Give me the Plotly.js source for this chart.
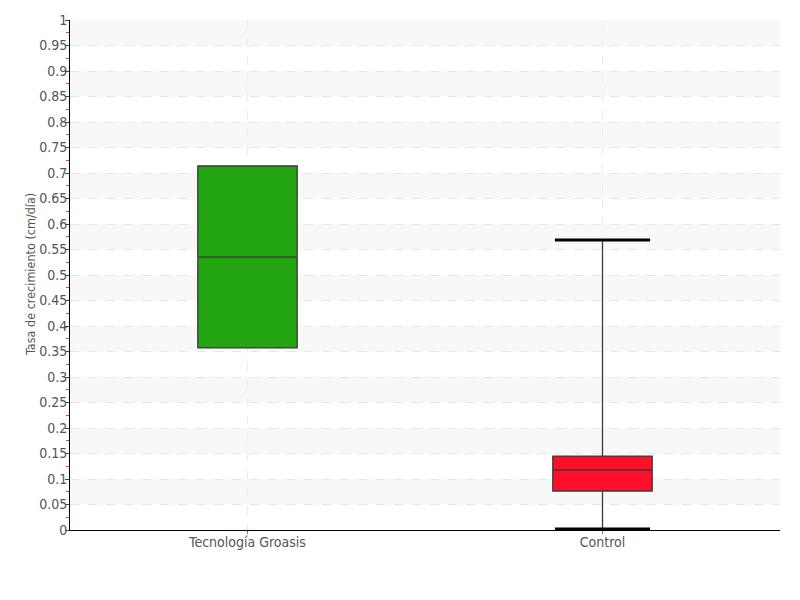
<!DOCTYPE html>
<html>
<head>
<meta charset="utf-8">
<script src="https://cdn.plot.ly/plotly-3.0.1.min.js"></script>
<style>html,body{margin:0;padding:0;background:#fff}#chart{width:800px;height:600px}
#chart text{font-stretch:condensed !important;}</style>
</head>
<body>
<div id="chart"></div>
<script>
var categories = ["Tecnología Groasis", "Control"];
var q1 = [0.357, 0.0765];
var medians = [0.535, 0.1176];
var q3 = [0.7137, 0.145];
var lowerFence = [0.357, 0.002];
var upperFence = [0.7137, 0.5686];
var fillColors = ["#22a510", "#ff1028"];
var yTicks = [0, 0.05, 0.1, 0.15, 0.2, 0.25, 0.3, 0.35, 0.4, 0.45, 0.5, 0.55, 0.6, 0.65, 0.7, 0.75, 0.8, 0.85, 0.9, 0.95, 1];
var yTitle = "Tasa de crecimiento (cm/día)";

var FONT = "'DejaVu Sans Condensed', 'DejaVu Sans', sans-serif";
var traces = [];
categories.forEach(function (c, i) {
  traces.push({
    type: "box",
    x: [i],
    q1: [q1[i]], median: [medians[i]], q3: [q3[i]],
    lowerfence: [lowerFence[i]], upperfence: [upperFence[i]],
    width: 0.28,
    fillcolor: fillColors[i],
    line: {color: "#3a3a3a", width: 1.3},
    whiskerwidth: 0,
    hoverinfo: "skip",
    showlegend: false
  });
  var capHalf = 0.134;
  if (upperFence[i] > q3[i]) {
    traces.push({type: "scatter", mode: "lines", x: [i - capHalf, i + capHalf], y: [upperFence[i], upperFence[i]],
      line: {color: "#000", width: 3}, hoverinfo: "skip", showlegend: false});
  }
  if (lowerFence[i] < q1[i]) {
    traces.push({type: "scatter", mode: "lines", x: [i - capHalf, i + capHalf], y: [lowerFence[i], lowerFence[i]],
      line: {color: "#000", width: 3}, hoverinfo: "skip", showlegend: false, cliponaxis: false});
  }
});

var shapes = [];
for (var k = 1; k < yTicks.length; k += 2) {
  shapes.push({type: "rect", xref: "paper", yref: "y", x0: 0, x1: 1, y0: yTicks[k], y1: yTicks[k + 1],
    fillcolor: "#f8f8f8", line: {width: 0}, layer: "below"});
}

var layout = {
  width: 800, height: 600,
  margin: {l: 70, r: 20, t: 20, b: 70},
  paper_bgcolor: "#fff", plot_bgcolor: "#fff",
  font: {family: FONT, size: 14, color: "#555"},
  shapes: shapes,
  annotations: [{
    text: yTitle, xref: "paper", yref: "paper", x: 0, y: 0.5,
    xanchor: "center", yanchor: "middle", xshift: -40, textangle: -90, showarrow: false,
    font: {family: FONT, size: 12.5, color: "#555"}
  }],
  xaxis: {
    range: [-0.5, 1.5],
    tickmode: "array", tickvals: categories.map(function (c, i) { return i; }), ticktext: categories,
    showgrid: true, gridcolor: "#ebebeb", griddash: "dash", gridwidth: 1,
    zeroline: false, showline: true, linecolor: "#000", linewidth: 1,
    ticks: "outside", ticklen: 3, tickcolor: "#777", ticklabelstandoff: -4,
    tickfont: {family: FONT, size: 14, color: "#555"}
  },
  yaxis: {
    range: [0, 1],
    tickmode: "array", tickvals: yTicks, ticktext: yTicks.map(String),
    showgrid: true, gridcolor: "#e6e6e6", griddash: "dash", gridwidth: 1,
    zeroline: false, showline: true, linecolor: "#000", linewidth: 1,
    ticks: "outside", ticklen: 4, tickcolor: "#444", ticklabelstandoff: -5,
    minor: {dtick: 0.025, tick0: 0.025, ticks: "outside", ticklen: 3, tickcolor: "#ff3030", showgrid: false},
    tickfont: {family: FONT, size: 14, color: "#555"}
  }
};

Plotly.newPlot("chart", traces, layout, {displayModeBar: false, staticPlot: true});
</script>
</body>
</html>
